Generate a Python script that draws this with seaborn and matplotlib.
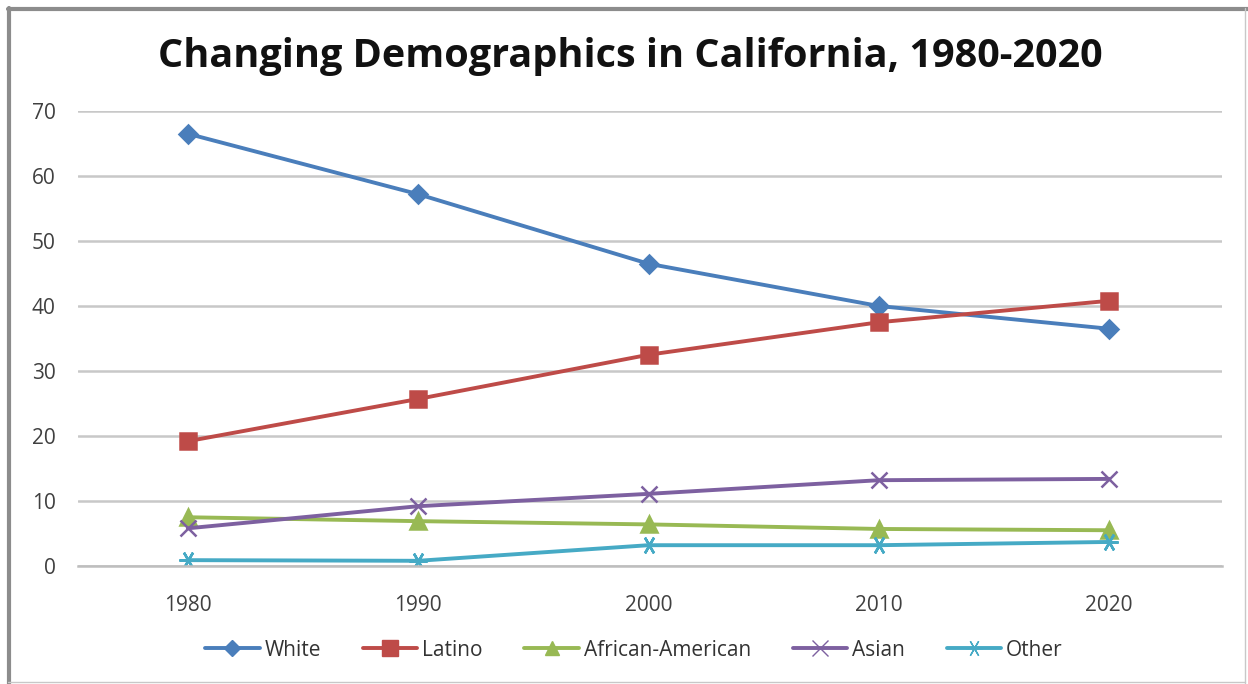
import matplotlib
matplotlib.use("Agg")
import matplotlib.pyplot as plt
import seaborn as sns
import pandas as pd
from matplotlib.lines import Line2D

years = ["1980", "1990", "2000", "2010", "2020"]
white = [66.5, 57.2, 46.5, 40.0, 36.5]
latino = [19.2, 25.7, 32.5, 37.5, 40.8]
african_american = [7.5, 6.9, 6.4, 5.7, 5.5]
asian = [5.8, 9.2, 11.1, 13.2, 13.4]
other = [0.9, 0.8, 3.2, 3.2, 3.7]
groups = ["White", "Latino", "African-American", "Asian", "Other"]
title = "Changing Demographics in California, 1980-2020"

series = [white, latino, african_american, asian, other]
rows = []
for g, vals in zip(groups, series):
    for i, (y, v) in enumerate(zip(years, vals)):
        rows.append({"pos": i, "year": y, "group": g, "value": v})
df = pd.DataFrame(rows)

sns.set_theme(style="white")
plt.rcParams["font.family"] = ["Open Sans", "DejaVu Sans"]

colors = {"White": "#4A7EBB", "Latino": "#BE4B48", "African-American": "#98B954",
          "Asian": "#7D60A0", "Other": "#46AAC5"}
markers = {"White": "D", "Latino": "s", "African-American": "^", "Asian": "x", "Other": (6, 2, 90)}
sizes_m = {"White": 9, "Latino": 12, "African-American": 11, "Asian": 12, "Other": 13}

W, H = 1248, 684
fig = plt.figure(figsize=(W / 100, H / 100), dpi=100)
ax_l, ax_r, ax_t, ax_b = 78, 1222, 111, 566
ax = fig.add_axes([ax_l / W, 1 - ax_b / H, (ax_r - ax_l) / W, (ax_b - ax_t) / H])

for g in groups:
    sub = df[df["group"] == g]
    sns.lineplot(data=sub, x="pos", y="value", color=colors[g], marker=markers[g],
                 markersize=sizes_m[g], markerfacecolor=colors[g],
                 markeredgecolor=colors[g], markeredgewidth=1.8,
                 linewidth=2.8, ax=ax, legend=False)

ax.set_xlim(-0.477, 4.49)
ax.set_ylim(0, 70)
ax.set_yticks(range(0, 71, 10))
ax.set_xticks(range(5))
ax.set_xticklabels(years)
ax.grid(axis="y", color="#C8C8C8", linewidth=1.8)
ax.grid(axis="x", visible=False)
ax.set_axisbelow(True)
for s in ["top", "right", "left"]:
    ax.spines[s].set_visible(False)
ax.spines["bottom"].set_color("#BEBEBE")
ax.spines["bottom"].set_linewidth(1.8)
ax.tick_params(axis="both", labelsize=15, colors="#404040", length=0)
ax.tick_params(axis="y", pad=16)
ax.tick_params(axis="x", pad=21)
ax.set_xlabel("")
ax.set_ylabel("")

fig.text(630 / W, 1 - 56 / H, title, ha="center", va="center", fontsize=28.5,
         fontweight="bold", color="#111111")

handles = [Line2D([], [], color=colors[g], marker=markers[g], markersize=sizes_m[g] - 1,
                  markerfacecolor=colors[g], markeredgecolor=colors[g], linewidth=2.8)
           for g in groups]
fig.legend(handles, groups, loc="center", bbox_to_anchor=(634 / W, 1 - 650 / H), ncol=5,
           frameon=False, fontsize=15, handlelength=2.6, handletextpad=0.25,
           columnspacing=2.0, labelcolor="#333333")

# frame
fig.add_artist(Line2D([9 / W, 9 / W], [0, 1 - 8 / H], transform=fig.transFigure,
                      color="#8C8C8C", linewidth=3))
fig.add_artist(Line2D([8 / W, 1], [1 - 8.5 / H, 1 - 8.5 / H], transform=fig.transFigure,
                      color="#8C8C8C", linewidth=3))
fig.add_artist(Line2D([1245 / W, 1245 / W], [0, 1 - 8 / H], transform=fig.transFigure,
                      color="#C8C8C8", linewidth=1))
fig.add_artist(Line2D([8 / W, 1245 / W], [1 - 682 / H, 1 - 682 / H], transform=fig.transFigure,
                      color="#C8C8C8", linewidth=1))

fig.savefig("out.png", dpi=100)
